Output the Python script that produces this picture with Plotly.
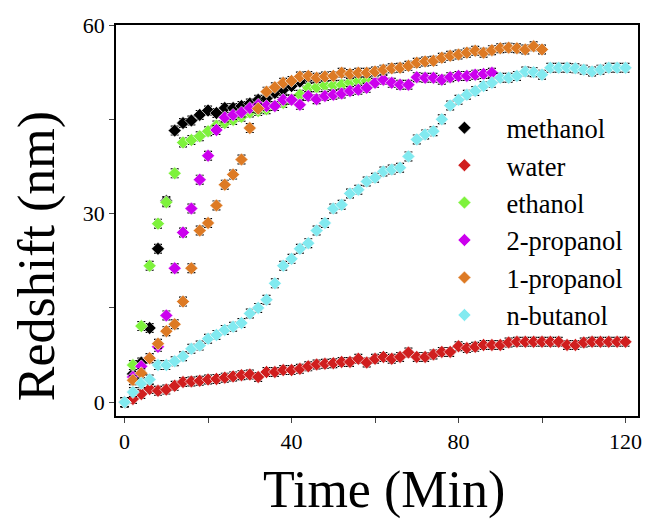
import plotly.graph_objects as go

series_names = ["methanol", "water", "ethanol", "2-propanol", "1-propanol", "n-butanol"]
series_colors = ["#000000", "#d01e1e", "#7ef23c", "#cc00ee", "#dd7a24", "#82eaf0"]

methanol_t = list(range(0, 47, 2))
methanol = [0, 4.5, 6.3, 11.8, 24.4, 32.0, 43.2, 44.4, 44.8, 45.7, 46.4, 46.0, 46.8, 46.8,
            47.1, 47.5, 48.1, 48.3, 49.2, 49.7, 50.3, 51.0, 51.6, 51.5]

water_t = list(range(0, 121, 2))
water = [0, 0.5, 1.3, 2.1, 1.8, 2.0, 2.6, 3.2, 3.3, 3.4, 3.6, 3.7, 3.9, 4.1, 4.3, 4.4, 4.0,
         4.8, 4.8, 5.1, 5.1, 5.3, 5.7, 6.0, 6.1, 6.2, 6.4, 6.4, 6.9, 6.3, 6.9, 7.2, 6.9, 7.2,
         7.9, 7.2, 7.2, 7.6, 8.0, 8.0, 8.9, 8.6, 8.8, 9.1, 9.1, 9.1, 9.5, 9.6, 9.6, 9.6, 9.6,
         9.6, 9.6, 9.1, 9.1, 9.5, 9.6, 9.6, 9.6, 9.6, 9.6]

ethanol_t = list(range(0, 59, 2))
ethanol = [0, 5.9, 12.1, 21.7, 28.4, 31.8, 36.4, 41.3, 41.7, 42.3, 43.1, 44.0, 44.4, 44.9,
           45.4, 46.1, 46.3, 46.6, 47.1, 47.6, 48.2, 48.9, 50.0, 50.1, 50.4, 50.4, 50.5, 50.9,
           51.1, 51.1]

propanol2_t = list(range(0, 89, 2))
propanol2 = [0, 4.0, 5.7, 7.0, 8.8, 13.8, 21.3, 27.0, 30.8, 35.4, 39.2, 43.3, 45.3, 45.7,
             46.1, 46.8, 47.3, 47.1, 47.1, 48.1, 48.1, 47.3, 48.7, 48.2, 48.7, 48.9, 49.1,
             49.5, 49.7, 50.0, 50.8, 51.3, 50.8, 50.5, 50.5, 51.7, 51.6, 51.6, 51.3, 51.7,
             51.9, 51.9, 52.1, 52.2, 52.4]

propanol1_t = list(range(0, 101, 2))
propanol1 = [0, 3.5, 4.6, 7.0, 9.3, 11.3, 12.4, 16.0, 21.3, 27.3, 28.5, 31.3, 34.6, 36.2,
             38.6, 43.6, 46.7, 49.4, 50.1, 50.8, 51.1, 51.8, 51.9, 51.6, 51.8, 51.9, 52.4,
             52.2, 52.4, 52.4, 52.6, 52.9, 53.1, 53.2, 53.5, 54.0, 54.2, 54.3, 54.8, 55.1,
             55.3, 55.6, 55.9, 55.6, 56.0, 56.3, 56.4, 56.3, 56.1, 56.6, 56.1]

butanol_t = list(range(0, 121, 2))
butanol = [0, 1.6, 3.0, 3.6, 5.9, 5.9, 6.5, 7.3, 8.5, 9.0, 10.1, 10.7, 11.5, 12.0, 12.6,
           14.1, 15.0, 16.3, 18.9, 21.7, 22.8, 24.4, 25.3, 27.3, 28.5, 30.8, 31.4, 33.2,
           33.8, 35.1, 35.7, 36.7, 37.0, 37.3, 39.1, 41.8, 42.6, 43.1, 45.0, 47.2, 48.1,
           48.9, 49.5, 50.3, 50.8, 51.6, 51.6, 51.9, 52.6, 52.5, 52.1, 53.2, 53.2, 53.2,
           53.1, 52.9, 52.6, 52.9, 53.2, 53.2, 53.2]

x_tickvals = [0, 20, 40, 60, 80, 100, 120]
x_ticktext = ["0", "", "40", "", "80", "", "120"]
y_tickvals = [0, 15, 30, 45, 60]
y_ticktext = ["0", "", "30", "", "60"]
x_title = "Time (Min)"
y_title = "Redshift (nm)"

all_t = [methanol_t, water_t, ethanol_t, propanol2_t, propanol1_t, butanol_t]
all_y = [methanol, water, ethanol, propanol2, propanol1, butanol]

fig = go.Figure()
for name, color, t, y in zip(series_names, series_colors, all_t, all_y):
    fig.add_trace(go.Scatter(
        x=t, y=y, mode="markers", name=name,
        marker=dict(symbol="diamond", size=10, color=color,
                    line=dict(color="white", width=0.6)),
        error_y=dict(type="constant", value=0.7, color="black", thickness=1.2, width=4),
    ))

font_family = "Liberation Serif, Times New Roman, serif"
fig.update_layout(
    width=646, height=523,
    margin=dict(l=116, r=8, t=25, b=107),
    paper_bgcolor="white", plot_bgcolor="white",
    font=dict(family=font_family, color="black", size=22),
    showlegend=True,
    legend=dict(x=0.587, y=0.798, xanchor="left", yanchor="top",
                font=dict(family=font_family, size=26.5, color="black"),
                bgcolor="rgba(0,0,0,0)", itemwidth=74, tracegroupgap=0),
    xaxis=dict(range=[-2.06, 123.0], tickmode="array", tickvals=x_tickvals,
               ticktext=x_ticktext, ticks="outside", ticklen=5, tickwidth=1,
               showline=True, linecolor="black", linewidth=1.5, mirror=True,
               showgrid=False, zeroline=False, automargin=False,
               tickfont=dict(family=font_family, size=22)),
    yaxis=dict(range=[-2.2, 60], tickmode="array", tickvals=y_tickvals,
               ticktext=y_ticktext, ticks="outside", ticklen=5, tickwidth=1,
               showline=True, linecolor="black", linewidth=1.5, mirror=True,
               showgrid=False, zeroline=False, automargin=False,
               tickfont=dict(family=font_family, size=22)),
    annotations=[
        dict(text=x_title, xref="paper", yref="paper", x=0.513, y=-0.189,
             xanchor="center", yanchor="middle", showarrow=False,
             font=dict(family=font_family, size=52, color="black")),
        dict(text=y_title, xref="paper", yref="paper", x=-0.151, y=0.409,
             xanchor="center", yanchor="middle", showarrow=False, textangle=-90,
             font=dict(family=font_family, size=52, color="black")),
    ],
)

fig.write_html("out.html", config={"displayModeBar": False},
               post_script="document.body.style.margin='0';document.body.style.overflow='hidden';")
